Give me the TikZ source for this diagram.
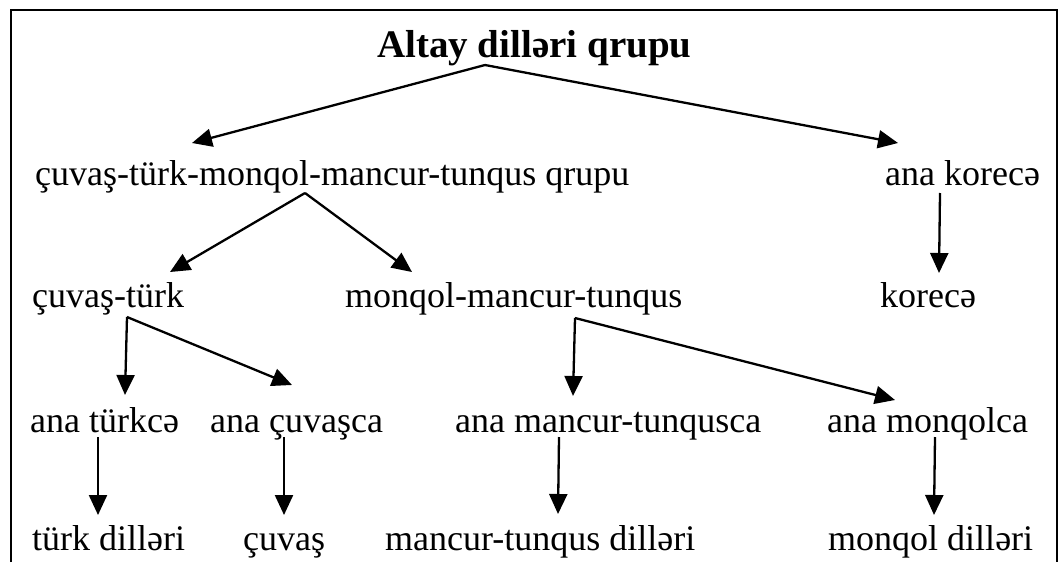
\documentclass[tikz,border=0pt]{standalone}
\usepackage{fontspec}
\setmainfont{Liberation Serif}
\usepackage{tikz}
\usetikzlibrary{arrows.meta,calc}

\begin{document}
\begin{tikzpicture}[x=1pt,y=-1pt,
  lang/.style={anchor=base west,inner sep=0pt,font=\fontsize{36}{41}\selectfont},
  head/.style={lang,font=\fontsize{39}{45}\selectfont\bfseries},
  arr/.style={line width=2.3pt,-{Triangle[length=20pt,width=18pt]}}]
\useasboundingbox (0,0) rectangle (1059,562);
\draw[line width=1.8pt] (11,562) -- (11,10) -- (1057,10) -- (1057,562);
\node[head] (root) at (377,57) {Altay dilləri qrupu};
\node[lang] (grp) at (35,185) {çuvaş-türk-monqol-mancur-tunqus qrupu};
\node[lang] (anakor) at (885,185) {ana korecə};
\node[lang] (ct) at (32,307) {çuvaş-türk};
\node[lang] (mmt) at (345,307) {monqol-mancur-tunqus};
\node[lang] (kor) at (880,307) {korecə};
\node[lang] (atr) at (30,432) {ana türkcə};
\node[lang] (acv) at (210,432) {ana çuvaşca};
\node[lang] (amt) at (455,432) {ana mancur-tunqusca};
\node[lang] (amq) at (827,432) {ana monqolca};
\node[lang] (trd) at (32,550) {türk dilləri};
\node[lang] (cvs) at (243,550) {çuvaş};
\node[lang] (mtd) at (385,550) {mancur-tunqus dilləri};
\node[lang] (mqd) at (828,550) {monqol dilləri};
\draw[arr] ($(root.base west)+(108,8)$) -- ($(grp.base west)+(157,-42)$);
\draw[arr] ($(root.base west)+(108,8)$) -- ($(anakor.base west)+(13,-42)$);
\draw[arr] ($(grp.base west)+(270,8)$) -- ($(ct.base west)+(138,-35)$);
\draw[arr] ($(grp.base west)+(270,8)$) -- ($(mmt.base west)+(67,-35)$);
\draw[arr] ($(anakor.base west)+(55,8)$) -- ($(kor.base west)+(59,-34)$);
\draw[arr] ($(ct.base west)+(95,10)$) -- ($(atr.base west)+(95,-37)$);
\draw[arr] ($(ct.base west)+(95,10)$) -- ($(acv.base west)+(82,-47)$);
\draw[arr] ($(mmt.base west)+(230,11)$) -- ($(amt.base west)+(118,-36)$);
\draw[arr] ($(mmt.base west)+(230,11)$) -- ($(amq.base west)+(68,-32)$);
\draw[arr] ($(atr.base west)+(68,5)$) -- ($(trd.base west)+(66,-35)$);
\draw[arr] ($(acv.base west)+(74,5)$) -- ($(cvs.base west)+(41,-35)$);
\draw[arr] ($(amt.base west)+(104,5)$) -- ($(mtd.base west)+(173,-36)$);
\draw[arr] ($(amq.base west)+(108,5)$) -- ($(mqd.base west)+(106,-35)$);
\end{tikzpicture}
\end{document}
